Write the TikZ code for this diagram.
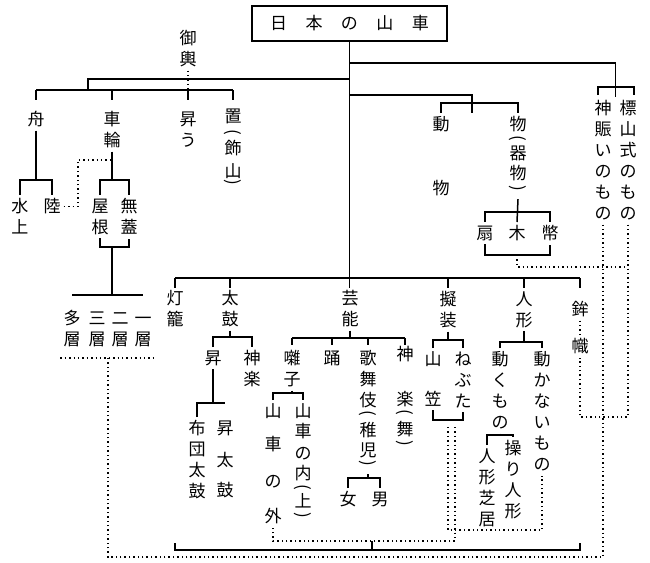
\documentclass[tikz,border=0pt]{standalone}
\usepackage{fontspec}
\setmainfont{Noto Sans CJK JP}
\usetikzlibrary{positioning, calc}
\newcommand{\vlp}{\rotatebox[origin=c]{-90}{(}}
\newcommand{\vrp}{\rotatebox[origin=c]{-90}{)}}
\newcommand{\ts}{\rule{0pt}{14pt}}
\newcommand{\botstr}{\rule[-2pt]{0pt}{2pt}}
\tikzset{
  vt/.style={align=center, anchor=north, inner sep=3pt, font=\fontsize{17}{21}\selectfont,
    execute at end node=\botstr},
  titlebox/.style={draw, line width=1.5pt, minimum width=195pt, minimum height=35pt, inner sep=0pt, font=\fontsize{17}{21}\selectfont},
  tree/.style={line width=1.5pt},
  dots/.style={line width=1.1pt, dash pattern=on 1.4pt off 3pt},
}

\begin{document}
\begin{tikzpicture}[x=1pt, y=-1pt]
    \useasboundingbox (0,0) rectangle (650,562);

    % Title
    \node[titlebox] (title) at (349.5,23.5) {日\hspace{18.5pt}本\hspace{18.5pt}の\hspace{18.5pt}山\hspace{18.5pt}車};

    % Upper left: mikoshi etc.
    \node[vt] (mikoshi) at (188,27) {\ts 御\\輿};
    \node[vt] (funa) at (36,108) {\ts 舟};
    \node[vt] (sharin) at (112,108) {\ts 車\\輪};
    \node[vt] (kaku) at (188,108) {\ts 昇\\う};
    \node[vt] (oki) at (233,105) {\ts 置\\[-5.5pt]\vlp\\[-4.5pt]飾\\[2pt]山\\[-10.5pt]\vrp};
    \node[vt] (suijo) at (20,195) {\ts 水\\上};
    \node[vt] (riku) at (52,195) {\ts 陸};
    \node[vt] (yane) at (100,195) {\ts 屋\\根};
    \node[vt] (mugai) at (129,195) {\ts 無\\蓋};
    \node[vt] (tasou) at (72,307) {\ts 多\\層};
    \node[vt] (sansou) at (97,307) {\ts 三\\層};
    \node[vt] (nisou) at (120,307) {\ts 二\\層};
    \node[vt] (issou) at (143,307) {\ts 一\\層};

    % Upper right
    \node[vt] (doubutsu) at (441,113) {\ts 動\\[43pt]物};
    \node[vt] (kibutsu) at (518,113) {\ts 物\\[-7.5pt]\vlp\\[-5.5pt]器\\[-1pt]物\\[-6.5pt]\vrp};
    \node[vt] (ougi) at (485,222) {\ts 扇};
    \node[vt] (ki) at (517,222) {\ts 木};
    \node[vt] (hei) at (550,222) {\ts 幣};
    \node[vt] (shinshin) at (603,97) {\ts 神\\賑\\い\\の\\も\\の};
    \node[vt] (hyouzan) at (628,97) {\ts 標\\山\\式\\の\\も\\の};

    % Lower row
    \node[vt] (tourou) at (175,287) {\ts 灯\\籠};
    \node[vt] (taiko) at (230,287) {\ts 太\\鼓};
    \node[vt] (geinou) at (350,287) {\ts 芸\\能};
    \node[vt] (gisou) at (448,288) {\ts 擬\\装};
    \node[vt] (ningyou) at (524,288) {\ts 人\\形};
    \node[vt] (hoko) at (580,298) {\ts 鉾};
    \node[vt] (nobori) at (580,335) {\ts 幟};

    % Taiko
    \node[vt] (noboru) at (213,347) {\ts 昇};
    \node[vt] (kagura) at (252,347) {\ts 神\\楽};
    \node[vt] (futon) at (197,417) {\ts 布\\団\\太\\鼓};
    \node[vt] (kakudaiko) at (225,417) {\ts 昇\\[11pt]太\\[9pt]鼓};

    % Geinou
    \node[vt] (hayashi) at (292,347) {\ts 囃\\子};
    \node[vt] (odori) at (332,347) {\ts 踊};
    \node[vt] (kabuki) at (368,347) {\ts 歌\\舞\\伎\\[-8.5pt]\vlp\\[-3.5pt]稚\\[-1pt]児\\[-8.5pt]\vrp};
    \node[vt] (kaguramai) at (405,343) {\ts 神\\[24pt]楽\\[-8.5pt]\vlp\\[-3.5pt]舞\\[-7.5pt]\vrp};
    \node[vt] (yamasoto) at (273,400) {\ts 山\\[12pt]車\\[16pt]の\\[14pt]外};
    \node[vt] (yamauchi) at (303,400) {\ts 山\\[-1pt]車\\[1pt]の\\[-1pt]内\\[-7.5pt]\vlp\\[-6.5pt]上\\[-7.5pt]\vrp};
    \node[vt] (onna) at (348,488) {\ts 女};
    \node[vt] (otoko) at (380,488) {\ts 男};

    % Gisou, ningyou
    \node[vt] (yamakasa) at (433,348) {\ts 山\\[19pt]笠};
    \node[vt] (nebuta) at (463,348) {\ts ね\\ぶ\\た};
    \node[vt] (ugoku) at (500,348) {\ts 動\\く\\も\\の};
    \node[vt] (ugokanai) at (542,348) {\ts 動\\か\\な\\い\\も\\の};
    \node[vt] (shibai) at (487,445) {\ts 人\\形\\芝\\居};
    \node[vt] (ayatsuri) at (513,437) {\ts 操\\り\\人\\形};

    % Trunk and upper branches
    \draw[tree] (title.south) -- (title.south |- 0,288);
    \draw[tree] (title.south |- 0,63) -| ($(shinshin.north)!0.5!(hyouzan.north)$ |- 0,87);
    \draw[tree] ($(shinshin.north)+(-5,-2)$) |- ($(hyouzan.north |- 0,87)+(6,0)$) -- ($(hyouzan.north)+(6,-2)$);
    \draw[tree] (title.south |- 0,79) -| (88,90);
    \draw[tree] (funa.north |- 0,90) -- (oki.north |- 0,90);
    \foreach \n in {funa,sharin,kaku,oki}
        \draw[tree] (\n.north |- 0,90) -- ++(0,10);
    \draw[dots] (mikoshi.south) -- (mikoshi.south |- 0,90);
    \draw[tree] (title.south |- 0,95) -| ($(doubutsu.north)!0.4!(kibutsu.north)$ |- 0,103);
    \draw[tree] (doubutsu.north) |- (kibutsu.north |- 0,103) -- (kibutsu.north);

    % Fune, kuruma
    \draw[tree] (funa.south) -- (funa.south |- 0,180);
    \draw[tree] (suijo.north) |- (riku.north |- 0,180) -- (riku.north);
    \draw[dots] (riku.east) -| (78,160) -- (sharin.south |- 0,160);
    \draw[tree] (sharin.south) -- (sharin.south |- 0,180);
    \draw[tree] (yane.north) |- (mugai.north |- 0,180) -- (mugai.north);
    \draw[tree] (yane.south) |- (mugai.south |- 0,247) -- (mugai.south);
    \draw[tree] (sharin.south |- 0,247) -- (sharin.south |- 0,295);
    \draw[tree] (tasou.north |- 0,295) -- (issou.north |- 0,295);

    % Kibutsu
    \draw[tree] (kibutsu.south) -- (ki.north);
    \draw[tree] (ougi.north) |- (hei.north |- 0,212) -- (hei.north);
    \draw[tree] (ougi.south) |- (hei.south |- 0,255) -- (hei.south);
    \draw[dots] (ki.south |- 0,255) |- (hyouzan.south |- 0,267);

    % Lower branches
    \draw[tree] (tourou.north |- 0,278) -- (hoko.north |- 0,278);
    \foreach \n in {tourou,taiko,gisou,ningyou,hoko}
        \draw[tree] (\n.north |- 0,278) -- ++(0,10);
    \draw[dots] (hoko.south) -- (nobori.north);

    % Taiko
    \draw[tree] (taiko.south) -- (taiko.south |- 0,337);
    \draw[tree] (noboru.north) |- (kagura.north |- 0,337) -- (kagura.north);
    \draw[tree] (noboru.south) -- (noboru.south |- 0,403);
    \draw[tree] (futon.north) |- (kakudaiko.north |- 0,403);

    % Geinou
    \draw[tree] (geinou.south) -- (geinou.south |- 0,338);
    \draw[tree] (hayashi.north |- 0,338) -- (kaguramai.north |- 0,338);
    \foreach \n in {hayashi,odori,kabuki,kaguramai}
        \draw[tree] (\n.north |- 0,338) -- ++(0,7);
    \draw[tree] (hayashi.south) -- (hayashi.south |- 0,393);
    \draw[tree] (yamasoto.north) |- (yamauchi.north |- 0,393) -- (yamauchi.north);
    \draw[tree] (kabuki.south) -- (kabuki.south |- 0,478);
    \draw[tree] (onna.north) |- (otoko.north |- 0,478) -- (otoko.north);

    % Gisou
    \draw[tree] (gisou.south) -- (gisou.south |- 0,340);
    \draw[tree] (yamakasa.north) |- (nebuta.north |- 0,340) -- (nebuta.north);
    \draw[tree] (yamakasa.south) |- (nebuta.south |- 0,420) -- (nebuta.south);

    % Ningyou
    \draw[tree] (ningyou.south) -- (ningyou.south |- 0,342);
    \draw[tree] (ugoku.north) |- (ugokanai.north |- 0,342) -- (ugokanai.north);
    \draw[tree] (ugoku.south) -- (ugoku.south |- 0,435);
    \draw[tree] (shibai.north) |- (ayatsuri.north |- 0,435) -- (ayatsuri.north);

    % Dotted links
    \draw[dots] (gisou.south |- 0,427) |- (ugokanai.south |- 0,530) -- (ugokanai.south);
    \draw[dots] (455,427) |- (yamasoto.south |- 0,541) -- (yamasoto.south);
    \draw[dots] (hyouzan.south) |- (nobori.south |- 0,417) -- (nobori.south);
    \draw[dots] (tasou.south west |- 0,358) -- (issou.south east |- 0,358);
    \draw[dots] (shinshin.south) |- (108,557) -- (108,358);

    % Bottom bracket
    \draw[tree] (tourou.south |- 0,543) |- (hoko.south |- 0,550) -- (hoko.south |- 0,543);
    \draw[tree] (372,541) -- (372,550);
\end{tikzpicture}
\end{document}
